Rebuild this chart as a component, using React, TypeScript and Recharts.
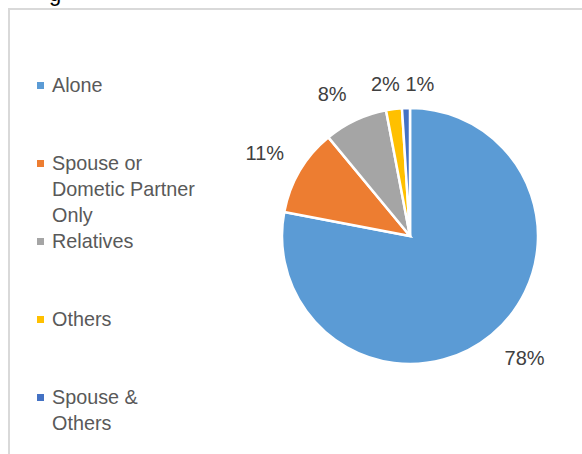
import React from "react";
import { PieChart, Pie, Cell } from "recharts";

// living arrangement shares (percent)
const categories = ["Alone", "Spouse or Dometic Partner Only", "Relatives", "Others", "Spouse & Others"];
const shares = [78, 11, 8, 2, 1];
const legendLabels = ["Alone", "Spouse or\nDometic Partner\nOnly", "Relatives", "Others", "Spouse &\nOthers"];
const sliceColors = ["#5B9BD5", "#ED7D31", "#A5A5A5", "#FFC000", "#4472C4"];

// small nudges so the crowded labels sit like the original
const labelNudge = [
  [10, -4],
  [-4, 0],
  [-8, 6],
  [-4, 11],
  [15, 12],
];

const chartData = categories.map((name, i) => ({ name, value: shares[i] }));

const RAD = Math.PI / 180;
const FONT = "'Liberation Sans', Arial, sans-serif";

function PctLabel(props: any) {
  const { cx, cy, midAngle, outerRadius, index, value } = props;
  const r = outerRadius + 36;
  const [dx, dy] = labelNudge[index] || [0, 0];
  const x = cx + r * Math.cos(-midAngle * RAD) + dx;
  const y = cy + r * Math.sin(-midAngle * RAD) + dy;
  return (
    <text
      x={x}
      y={y}
      fill="#404040"
      fontSize={20}
      fontFamily={FONT}
      textAnchor="middle"
      dominantBaseline="central"
    >
      {`${value}%`}
    </text>
  );
}

export default function App() {
  return (
    <div style={{ position: "absolute", left: 0, top: 0, width: 582, height: 454, overflow: "hidden", background: "#fff" }}>
      {/* tail of the title above, cut off by the crop */}
      <div style={{ position: "absolute", left: 49, top: -19, fontSize: 22, fontFamily: FONT, color: "#000" }}>g</div>

      {/* chart area frame */}
      <div
        style={{
          position: "absolute",
          left: 8,
          top: 8,
          width: 600,
          height: 480,
          borderLeft: "2px solid #d9d9d9",
          borderTop: "2px solid #d9d9d9",
        }}
      />

      {/* legend */}
      <div style={{ position: "absolute", left: 37, top: 72, fontFamily: FONT, fontSize: 19.8, color: "#595959" }}>
        {legendLabels.map((label, i) => (
          <div key={i} style={{ height: 78, display: "flex", alignItems: "flex-start" }}>
            <span
              style={{
                display: "inline-block",
                width: 7,
                height: 7,
                background: sliceColors[i],
                marginTop: 10,
                marginRight: 8,
                flexShrink: 0,
              }}
            />
            <span style={{ whiteSpace: "pre-line", lineHeight: "26px" }}>{label}</span>
          </div>
        ))}
      </div>

      <div style={{ position: "absolute", left: 0, top: 0 }}>
        <PieChart width={582} height={454} margin={{ top: 0, right: 0, bottom: 0, left: 0 }}>
          <Pie
            data={chartData}
            dataKey="value"
            nameKey="name"
            cx={410}
            cy={236}
            outerRadius={128}
            startAngle={90}
            endAngle={-270}
            stroke="#fff"
            strokeWidth={2.5}
            label={PctLabel}
            labelLine={false}
            isAnimationActive={false}
          >
            {chartData.map((d, i) => (
              <Cell key={d.name} fill={sliceColors[i]} />
            ))}
          </Pie>
        </PieChart>
      </div>
    </div>
  );
}
